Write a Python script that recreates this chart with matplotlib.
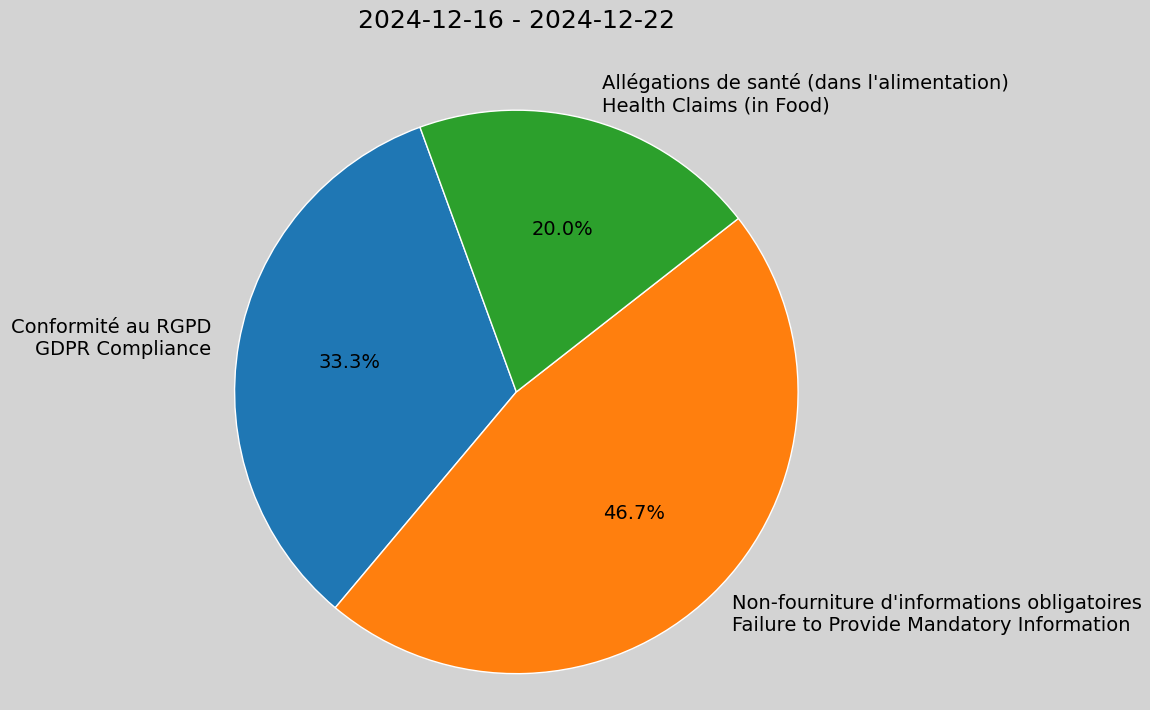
import matplotlib.pyplot as plt

labels = ["Conformité au RGPD\nGDPR Compliance",
          "Non-fourniture d'informations obligatoires\nFailure to Provide Mandatory Information",
          "Allégations de santé (dans l'alimentation)\nHealth Claims (in Food)"]
counts = [5, 7, 3]
colors = ["#1f77b4", "#ff7f0e", "#2ca02c"]

fig = plt.figure(figsize=(11.5, 7.1), dpi=100, facecolor="lightgray")
ax = fig.add_axes([0.204, 0.051, 0.49, 0.794])
ax.set_facecolor("lightgray")
ax.pie(counts, labels=labels, colors=colors, autopct="%1.1f%%", startangle=110,
       wedgeprops={"edgecolor": "white"}, textprops={"fontsize": 14})
ax.set_xlim(-1, 1)
ax.set_ylim(-1, 1)
ax.set_aspect("equal")
fig.text(0.449, 0.97, "2024-12-16 - 2024-12-22", ha="center", va="center", fontsize=18)
fig.savefig("out.png", facecolor="lightgray")
